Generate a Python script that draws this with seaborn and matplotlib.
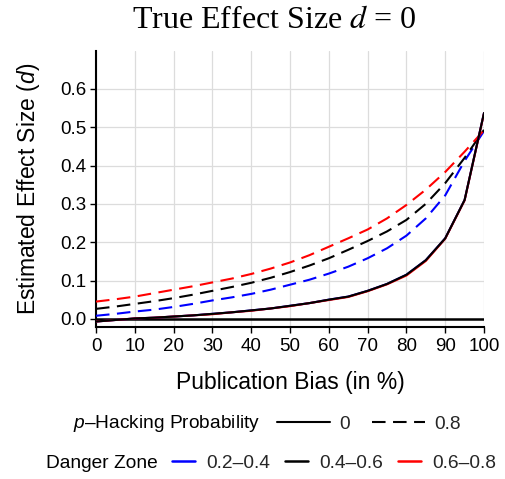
import matplotlib
matplotlib.use("Agg")
import matplotlib.pyplot as plt
import seaborn as sns
import pandas as pd
from matplotlib.lines import Line2D

# ---- data ----
bias = [0, 5, 10, 15, 20, 25, 30, 35, 40, 45, 50, 55, 60, 65, 70, 75, 80, 85, 90, 95, 100]
zones = ["0.2–0.4", "0.4–0.6", "0.6–0.8"]
phack_levels = ["0", "0.8"]

# p-hacking probability 0 (solid)
solid_blue = [-0.007, -0.003, 0.001, 0.003, 0.006, 0.009, 0.013, 0.017, 0.022, 0.027, 0.034,
              0.041, 0.050, 0.058, 0.073, 0.091, 0.115, 0.153, 0.210, 0.310, 0.537]
solid_black = [-0.007, -0.003, 0.001, 0.003, 0.006, 0.009, 0.013, 0.017, 0.022, 0.027, 0.034,
               0.041, 0.050, 0.058, 0.073, 0.091, 0.115, 0.153, 0.210, 0.310, 0.537]
solid_red = [-0.007, -0.003, 0.001, 0.003, 0.006, 0.009, 0.012, 0.017, 0.021, 0.027, 0.033,
             0.041, 0.049, 0.057, 0.072, 0.090, 0.113, 0.151, 0.209, 0.309, 0.536]

# p-hacking probability 0.8 (dashed)
dash_blue = [0.008, 0.013, 0.019, 0.024, 0.031, 0.039, 0.048, 0.056, 0.065, 0.076, 0.089,
             0.102, 0.118, 0.136, 0.158, 0.184, 0.217, 0.262, 0.322, 0.412, 0.490]
dash_black = [0.026, 0.032, 0.039, 0.046, 0.054, 0.063, 0.073, 0.083, 0.094, 0.107, 0.122,
              0.139, 0.158, 0.180, 0.203, 0.228, 0.258, 0.300, 0.354, 0.420, 0.493]
dash_red = [0.045, 0.051, 0.058, 0.067, 0.076, 0.085, 0.095, 0.105, 0.117, 0.131, 0.147,
            0.166, 0.188, 0.210, 0.233, 0.262, 0.297, 0.337, 0.383, 0.436, 0.492]

x_ticks = [0, 10, 20, 30, 40, 50, 60, 70, 80, 90, 100]
y_ticks = [0.0, 0.1, 0.2, 0.3, 0.4, 0.5, 0.6]
y_ticklabels = ["0.0", "0.1", "0.2", "0.3", "0.4", "0.5", "0.6"]

colors = {"0.2–0.4": "#0000FF", "0.4–0.6": "#000000", "0.6–0.8": "#FF0000"}

rows = []
for zone, sv, dv in zip(zones, [solid_blue, solid_black, solid_red], [dash_blue, dash_black, dash_red]):
    for b, s, d in zip(bias, sv, dv):
        rows.append({"bias": b, "estimate": s, "zone": zone, "phack": "0"})
        rows.append({"bias": b, "estimate": d, "zone": zone, "phack": "0.8"})
df = pd.DataFrame(rows)

# ---- style ----
sns.set_theme(style="ticks")
plt.rcParams["font.family"] = ["Liberation Sans", "DejaVu Sans"]
plt.rcParams["mathtext.fontset"] = "custom"
plt.rcParams["mathtext.rm"] = "Liberation Sans"
plt.rcParams["mathtext.it"] = "Liberation Sans:italic"

W, H = 505, 479
fig = plt.figure(figsize=(W / 100, H / 100), dpi=100)
ax = fig.add_axes([96 / W, 1 - 326.5 / H, (484 - 96) / W, 276 / H])

lw = 1.5
dash_pat = (6.5, 3.6)

sns.lineplot(data=df[df.phack == "0.8"], x="bias", y="estimate", hue="zone",
             hue_order=["0.2–0.4", "0.4–0.6", "0.6–0.8"], palette=colors,
             style="phack", dashes={"0.8": dash_pat}, linewidth=lw,
             legend=False, ax=ax, sort=False, zorder=3)
sns.lineplot(data=df[df.phack == "0"], x="bias", y="estimate", hue="zone",
             hue_order=["0.2–0.4", "0.6–0.8", "0.4–0.6"], palette=colors,
             style="phack", dashes={"0": ""}, linewidth=lw,
             legend=False, ax=ax, sort=False, zorder=3)
ax.axhline(0, color="black", lw=1.8, zorder=2)

ax.set_xlim(0, 100)
ax.set_ylim(-0.02, 0.70)
ax.set_xticks(x_ticks)
ax.set_xticklabels([str(t) for t in x_ticks])
ax.set_yticks(y_ticks)
ax.set_yticklabels(y_ticklabels)
ax.grid(True, color="#DCDCDC", lw=0.9, zorder=0)
ax.set_axisbelow(True)
for side in ["top", "right"]:
    ax.spines[side].set_visible(False)
for side in ["left", "bottom"]:
    ax.spines[side].set_linewidth(1.5)
    ax.spines[side].set_color("black")
ax.tick_params(axis="both", direction="out", length=4, width=1.0, color="black",
               labelsize=13.5, labelcolor="black", pad=3)
ax.tick_params(axis="x", pad=4)
ax.set_xlabel("")
ax.set_ylabel("Estimated Effect Size ($d$)", fontsize=16.5, color="black")
ax.yaxis.set_label_coords(-0.14, 0.5)

fig.text(290 / W, 1 - 383 / H, "Publication Bias (in %)", fontsize=16.5,
         ha="center", va="center", color="black")

fig.text(274 / W, 1 - 21 / H, "True Effect Size $d$ = 0", fontsize=23,
         family="Liberation Serif", math_fontfamily="stix",
         ha="center", va="center", color="black")

# ---- legends ----
fs_leg = 13.8
fig.text(260 / W, 1 - 424 / H, "$p$–Hacking Probability", fontsize=fs_leg,
         ha="right", va="center", color="black")
h1 = [Line2D([], [], color="black", lw=lw, linestyle="-"),
      Line2D([], [], color="black", lw=lw, linestyle=(0, dash_pat))]
leg1 = fig.legend(handles=h1, labels=phack_levels, ncol=2, frameon=False,
                  loc="center left", bbox_to_anchor=(277 / W, 1 - 424 / H),
                  fontsize=fs_leg, handlelength=2.75, handletextpad=0.5,
                  columnspacing=1.15, borderpad=0, borderaxespad=0)

fig.text(158 / W, 1 - 463 / H, "Danger Zone", fontsize=fs_leg,
         ha="right", va="center", color="black")
h2 = [Line2D([], [], color=colors[z], lw=lw + 0.3) for z in zones]
leg2 = fig.legend(handles=h2, labels=zones, ncol=3, frameon=False,
                  loc="center left", bbox_to_anchor=(172 / W, 1 - 463 / H),
                  fontsize=fs_leg, handlelength=1.2, handletextpad=0.6,
                  columnspacing=0.75, borderpad=0, borderaxespad=0)

fig.savefig("out.png", dpi=100)
